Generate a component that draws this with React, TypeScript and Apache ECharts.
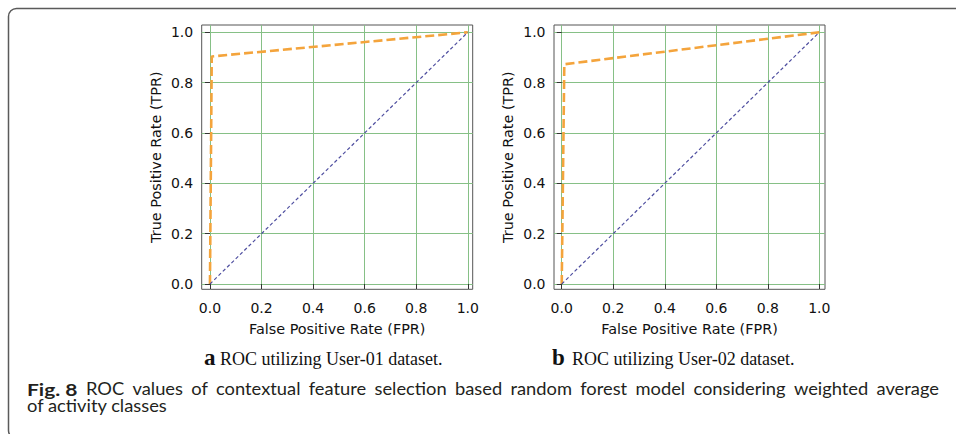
import React, { useEffect, useRef } from "react";
import * as echarts from "echarts";

// ---- data ----
const TICK_VALUES = [0, 0.2, 0.4, 0.6, 0.8, 1.0];
const FPR_USER01 = [0, 0.007, 1];
const TPR_USER01 = [0, 0.904, 1];
const FPR_USER02 = [0, 0.01, 1];
const TPR_USER02 = [0, 0.873, 1];
const CHANCE_FPR = [0, 1];
const CHANCE_TPR = [0, 1];
const SUB_LETTERS = ["a", "b"];
const SUB_TEXTS = ["ROC utilizing User-01 dataset.", "ROC utilizing User-02 dataset."];
const X_NAME = "False Positive Rate (FPR)";
const Y_NAME = "True Positive Rate (TPR)";
const CAPTION_LABEL = "Fig. 8";
const CAPTION_LINE1 =
  "ROC values of contextual feature selection based random forest model considering weighted average";
const CAPTION_LINE2 = "of activity classes";

const TICK_FONT = "DejaVu Sans";
const CAP_FONT = "Lato";
const CAP_SIZE = 16.5;

function measure(text: string, font: string): number {
  const c = document.createElement("canvas").getContext("2d");
  if (!c) return text.length * 7;
  c.font = font;
  return c.measureText(text).width;
}

function pairs(xs: number[], ys: number[]) {
  return xs.map((x, i) => [x, ys[i]]);
}

const labelStyle = {
  fontFamily: TICK_FONT,
  fontSize: 14,
  color: "#111",
};

function xAxisFor(gridIndex: number, min: number, max: number) {
  return {
    type: "value",
    gridIndex,
    min,
    max,
    name: X_NAME,
    nameLocation: "middle",
    nameGap: 33,
    nameTextStyle: { fontFamily: TICK_FONT, fontSize: 14.4, color: "#111" },
    axisLine: { show: false },
    axisTick: {
      show: true,
      length: 5,
      inside: false,
      customValues: TICK_VALUES,
      lineStyle: { color: "#333", width: 1 },
    },
    axisLabel: {
      customValues: TICK_VALUES,
      formatter: (v: number) => v.toFixed(1),
      ...labelStyle,
      margin: 11.5,
    },
    splitLine: { show: true, lineStyle: { color: "#86c086", width: 1 } },
  };
}

function yAxisFor(gridIndex: number, min: number, max: number) {
  return {
    type: "value",
    gridIndex,
    min,
    max,
    name: Y_NAME,
    nameLocation: "middle",
    nameGap: 39,
    nameTextStyle: { fontFamily: TICK_FONT, fontSize: 14.4, color: "#111" },
    axisLine: { show: false },
    axisTick: {
      show: true,
      length: 5,
      inside: false,
      customValues: TICK_VALUES,
      lineStyle: { color: "#333", width: 1 },
    },
    axisLabel: {
      customValues: TICK_VALUES,
      formatter: (v: number) => v.toFixed(1),
      ...labelStyle,
      margin: 8.5,
    },
    splitLine: { show: true, lineStyle: { color: "#86c086", width: 1 } },
  };
}

export default function App() {
  const ref = useRef<HTMLDivElement>(null);

  useEffect(() => {
    document.body.style.margin = "0";
    if (!ref.current) return;
    const chart = echarts.init(ref.current, undefined, { renderer: "svg" });

    const boldFont = `bold ${CAP_SIZE}px '${CAP_FONT}'`;
    const normFont = `${CAP_SIZE}px '${CAP_FONT}'`;
    const lineStart = 86;
    const lineEnd = 939;
    const sLine2 = 127 / measure(CAPTION_LINE2, normFont);
    const sLine1 = (lineEnd - lineStart) / measure(CAPTION_LINE1, normFont);
    const capScale = sLine2 * 0.35 + sLine1 * 0.65;
    const labelScale = 50.6 / measure(CAPTION_LABEL, boldFont);

    // justified first line
    const words = CAPTION_LINE1.split(" ");
    const widths = words.map((w) => measure(w, normFont) * capScale);
    const gap =
      (lineEnd - lineStart - widths.reduce((a, b) => a + b, 0)) / (words.length - 1);
    let cursor = lineStart;
    const wordEls = words.map((w, i) => {
      const el = {
        type: "text",
        x: cursor,
        y: 397.5,
        scaleX: capScale,
        style: {
          text: w,
          font: normFont,
          fill: "#231f20",
          textAlign: "left",
          textVerticalAlign: "bottom",
        },
      };
      cursor += widths[i] + gap;
      return el;
    });

    const roc = {
      color: "#f4a43c",
      width: 2.6,
      type: [9, 4] as any,
    };
    const chance = { color: "#4f4fa0", width: 1.2, type: [3.5, 2.5] as any };

    const subX = [
      [204, 220],
      [552, 572],
    ];

    const option: any = {
      animation: false,
      backgroundColor: "#ffffff",
      grid: [
        {
          left: 201.7,
          top: 25,
          width: 271,
          height: 264.3,
          show: true,
          borderColor: "#555",
          borderWidth: 1,
          backgroundColor: "transparent",
        },
        {
          left: 554,
          top: 25,
          width: 271,
          height: 264.3,
          show: true,
          borderColor: "#555",
          borderWidth: 1,
          backgroundColor: "transparent",
        },
      ],
      xAxis: [xAxisFor(0, -0.032, 1.019), xAxisFor(1, -0.03, 1.022)],
      yAxis: [yAxisFor(0, -0.021, 1.029), yAxisFor(1, -0.021, 1.029)],
      series: [
        {
          type: "line",
          xAxisIndex: 0,
          yAxisIndex: 0,
          data: pairs(FPR_USER01, TPR_USER01),
          showSymbol: false,
          symbol: "none",
          lineStyle: roc,
          z: 3,
        },
        {
          type: "line",
          xAxisIndex: 0,
          yAxisIndex: 0,
          data: pairs(CHANCE_FPR, CHANCE_TPR),
          showSymbol: false,
          symbol: "none",
          lineStyle: chance,
          z: 4,
        },
        {
          type: "line",
          xAxisIndex: 1,
          yAxisIndex: 1,
          data: pairs(FPR_USER02, TPR_USER02),
          showSymbol: false,
          symbol: "none",
          lineStyle: roc,
          z: 3,
        },
        {
          type: "line",
          xAxisIndex: 1,
          yAxisIndex: 1,
          data: pairs(CHANCE_FPR, CHANCE_TPR),
          showSymbol: false,
          symbol: "none",
          lineStyle: chance,
          z: 4,
        },
      ],
      graphic: [
        {
          type: "rect",
          silent: true,
          shape: { x: 8.5, y: 8.5, width: 1200, height: 430, r: 8 },
          style: { fill: "none", stroke: "#5a5a5a", lineWidth: 1.5 },
        },
        ...SUB_LETTERS.flatMap((letter, i) => [
          {
            type: "text",
            x: subX[i][0],
            y: 357.5,
            style: {
              text: letter,
              font: "bold 23px 'Liberation Serif'",
              fill: "#111",
              textAlign: "left",
              textVerticalAlign: "middle",
            },
          },
          {
            type: "text",
            x: subX[i][1],
            y: 359,
            style: {
              text: SUB_TEXTS[i],
              font: "18px 'Liberation Serif'",
              fill: "#111",
              textAlign: "left",
              textVerticalAlign: "middle",
            },
          },
        ]),
        {
          type: "text",
          x: 27,
          y: 397.5,
          scaleX: labelScale,
          style: {
            text: CAPTION_LABEL,
            font: boldFont,
            fill: "#231f20",
            textAlign: "left",
            textVerticalAlign: "bottom",
          },
        },
        ...wordEls,
        {
          type: "text",
          x: 27,
          y: 414,
          scaleX: capScale,
          style: {
            text: CAPTION_LINE2,
            font: normFont,
            fill: "#231f20",
            textAlign: "left",
            textVerticalAlign: "bottom",
          },
        },
      ],
    };

    chart.setOption(option);
    return () => chart.dispose();
  }, []);

  return <div ref={ref} style={{ width: 956, height: 434 }} />;
}
